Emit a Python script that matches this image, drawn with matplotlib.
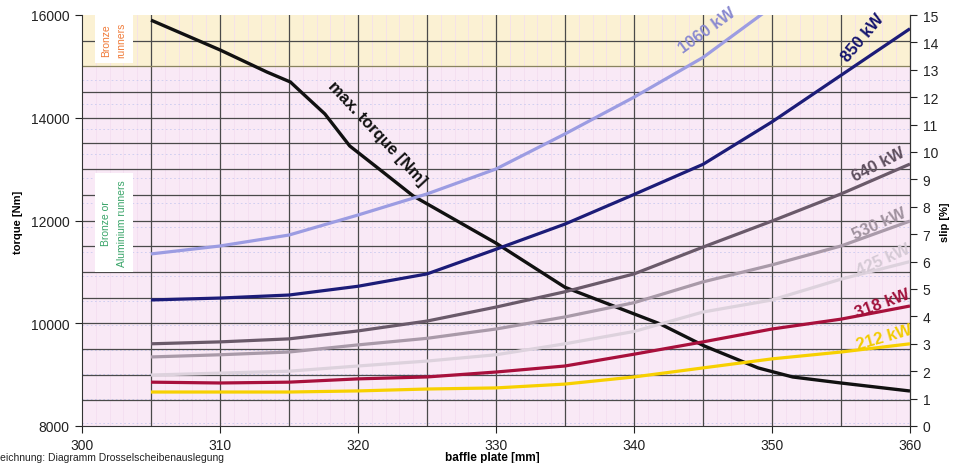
import matplotlib
matplotlib.use("Agg")
import matplotlib.pyplot as plt
import numpy as np

# ---------------- data ----------------
plate_mm = [305, 310, 315, 320, 325, 330, 335, 340, 345, 350, 355, 360]

slip_1060 = [6.28, 6.57, 6.97, 7.70, 8.47, 9.38, 10.66, 12.0, 13.45, 15.3, None, None]
slip_850 = [4.60, 4.67, 4.78, 5.10, 5.55, 6.45, 7.37, 8.45, 9.55, 11.10, 12.80, 14.50]
slip_640 = [3.00, 3.07, 3.18, 3.47, 3.83, 4.34, 4.90, 5.55, 6.53, 7.48, 8.47, 9.56]
slip_530 = [2.52, 2.60, 2.70, 2.96, 3.20, 3.54, 3.98, 4.50, 5.26, 5.88, 6.57, 7.48]
slip_425 = [1.86, 1.93, 2.00, 2.19, 2.37, 2.60, 3.00, 3.45, 4.16, 4.60, 5.36, 6.00]
slip_318 = [1.60, 1.57, 1.60, 1.72, 1.79, 1.97, 2.19, 2.62, 3.07, 3.54, 3.90, 4.38]
slip_212 = [1.24, 1.24, 1.24, 1.28, 1.35, 1.39, 1.53, 1.79, 2.12, 2.45, 2.70, 3.00]

torque_mm = [305, 310, 313.4, 315.1, 315.8, 317.6, 319.4, 321.8, 324, 330, 335,
             341.9, 345.1, 349, 351.5, 355, 360]
max_torque = [15900, 15320, 14890, 14696, 14521, 14074, 13451, 12945, 12478, 11560,
              10700, 9986, 9557, 9130, 8954, 8837, 8681]

power_labels = ["1060 kW", "850 kW", "640 kW", "530 kW", "425 kW", "318 kW", "212 kW"]
series = [slip_1060, slip_850, slip_640, slip_530, slip_425, slip_318, slip_212]

x_ticks = [300, 310, 320, 330, 340, 350, 360]
torque_ticks = [8000, 10000, 12000, 14000, 16000]
slip_ticks = list(range(0, 16))

# ---------------- style ----------------
colors = ["#9c9ce2", "#1c1c78", "#6a5a6a", "#a99aa9", "#ddd2dd", "#a8103c", "#f7d000"]
label_colors = ["#8a8ad0", "#14146e", "#5e4f5e", "#a0929f", "#d5cad5", "#a0103a", "#f2cc00"]
label_pos = [(345.3, 14.45), (356.6, 14.2), (357.7, 9.55), (357.8, 7.4), (358.1, 6.1),
             (358.0, 4.5), (358.1, 3.25)]
label_rot = [36, 50, 27, 24, 24, 20, 16]

W, H = 955, 464
fig = plt.figure(figsize=(W / 100, H / 100), dpi=100)
fig.patch.set_facecolor("white")
L, R, B, T = 82, 910, 427, 16
ax = fig.add_axes([L / W, 1 - B / H, (R - L) / W, (B - T) / H])
ax2 = ax.twinx()

ax.set_xlim(300, 360)
ax.set_ylim(8000, 16000)
ax2.set_ylim(0, 15)

# backgrounds
ax.set_facecolor("#f9e9f6")
ax.axhspan(15000, 16000, color="#fbf1d3", zorder=0)
# faint pink vertical minor lines
for xv in np.arange(301, 360, 1.0):
    ax.axvline(xv, color="#f3dcef", lw=0.5, zorder=0.5)
# faint blue dotted lines
for yv in np.arange(14735, 8000, -477):
    ax.axhline(yv, color="#cacaf0", lw=0.6, ls=(0, (2, 3)), zorder=0.6)
# major grid
for xv in range(305, 360, 5):
    ax.axvline(xv, color="#4a4a4a", lw=0.9, zorder=1)
for yv in range(8500, 16000, 500):
    c = "#8a8460" if yv == 15000 else "#4a4a4a"
    ax.axhline(yv, color=c, lw=0.9, zorder=1)

# text boxes
ax.text(302.3, 15530, "Bronze\nrunners", rotation=90, ha="center", va="center",
        fontsize=7.5, color="#f07a38", fontfamily="Liberation Sans", linespacing=1.7,
        bbox=dict(boxstyle="square,pad=0.6", fc="white", ec="none"), zorder=3)
ax.text(302.3, 11960, "Bronze or\nAluminium runners", rotation=90, ha="center",
        va="center", fontsize=7.5, color="#38a468", fontfamily="Liberation Sans",
        linespacing=1.7,
        bbox=dict(boxstyle="square,pad=0.6", fc="white", ec="none"), zorder=3)

# curves
ax2.set_zorder(ax.get_zorder() + 1)
ax2.patch.set_visible(False)
for s, c in zip(series, colors):
    xs = [x for x, v in zip(plate_mm, s) if v is not None]
    ys = [v for v in s if v is not None]
    ax2.plot(xs, ys, color=c, lw=2.3, solid_capstyle="butt", solid_joinstyle="round",
             clip_on=True, zorder=4)
ax.plot(torque_mm, max_torque, color="#111111", lw=2.4, zorder=5, solid_capstyle="butt",
        solid_joinstyle="round")

# curve labels
for lab, (px, py), rot, lc in zip(power_labels, label_pos, label_rot, label_colors):
    ax2.text(px, py, lab, rotation=rot, ha="center", va="center", fontsize=12,
             fontweight="bold", color=lc, fontfamily="Liberation Sans",
             rotation_mode="anchor", zorder=6)
ax.text(321.4, 13700, "max. torque [Nm]", rotation=-47, ha="center", va="center",
        fontsize=12, fontweight="bold", color="#111111", fontfamily="Liberation Sans",
        rotation_mode="anchor", zorder=6)

# axes / ticks
for a in (ax, ax2):
    a.spines["top"].set_visible(False)
ax.spines["left"].set_color("#333333")
ax.spines["bottom"].set_color("#333333")
ax2.spines["right"].set_color("#333333")
ax2.spines["left"].set_visible(False)
ax2.spines["bottom"].set_visible(False)
ax.set_xticks(x_ticks)
ax.set_xticklabels([str(v) for v in x_ticks])
ax.set_yticks(torque_ticks)
ax.set_yticklabels([str(v) for v in torque_ticks])
ax2.set_yticks(slip_ticks)
ax2.set_yticklabels([str(v) for v in slip_ticks])
tickfont = dict(labelsize=10, colors="#222222", direction="out", length=5, width=0.8)
ax.tick_params(axis="both", pad=4, **tickfont)
ax2.tick_params(axis="y", pad=4, **tickfont)
for lbl in ax.get_xticklabels() + ax.get_yticklabels() + ax2.get_yticklabels():
    lbl.set_fontfamily("Liberation Sans")

fig.text(18 / W, 1 - 222 / H, "torque [Nm]", rotation=90, ha="center", va="center",
         fontsize=8, fontweight="bold", fontfamily="Liberation Sans")
fig.text(945 / W, 1 - 222 / H, "slip [%]", rotation=90, ha="center", va="center",
         fontsize=8, fontweight="bold", fontfamily="Liberation Sans")
fig.text(492 / W, 1 - 458 / H, "baffle plate [mm]", ha="center", va="center",
         fontsize=8.5, fontweight="bold", fontfamily="Liberation Sans")
fig.text(0.0, 1 - 458 / H, "eichnung: Diagramm Drosselscheibenauslegung", ha="left",
         va="center", fontsize=7.5, fontfamily="Liberation Sans", color="#222222")

fig.savefig("out.png", dpi=100)
